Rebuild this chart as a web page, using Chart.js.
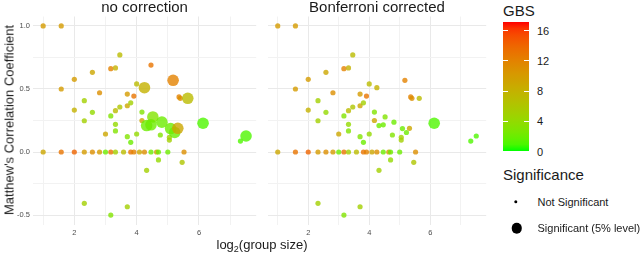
<!DOCTYPE html>
<html lang="en">
<head>
<meta charset="UTF-8">
<title>MCC vs group size</title>
<script src="https://cdn.jsdelivr.net/npm/chart.js"></script>
<style>
  body { margin: 0; background: #fff; font-family: "Liberation Sans", Arial, sans-serif; }
  #wrap { position: relative; width: 640px; height: 255px; overflow: hidden; background: #fff; }
  canvas { position: absolute; top: 0; }
  .lbl { position: absolute; white-space: nowrap; color: #1a1a1a; }
  #ytitle { left: 8.5px; top: 120px; font-size: 13px; transform: translate(-50%, -50%) rotate(-90deg); }
  #xtitle { left: 262px; top: 238px; font-size: 13px; line-height: 14px; transform: translateX(-50%); }
  #xtitle sub { font-size: 9px; vertical-align: -3px; line-height: 0; }
  .legtitle { font-size: 15px; line-height: 15px; }
  .legtext { font-size: 11px; line-height: 11px; transform: translateY(-50%); }
  #bar { position: absolute; left: 503px; top: 22.3px; width: 26px; height: 129.2px; }
  .tick { position: absolute; width: 5px; height: 1px; background: #fff; }
  .dot { position: absolute; border-radius: 50%; background: #000; transform: translate(-50%, -50%); }
</style>
</head>
<body>
<div id="wrap">
  <canvas id="leftChart" width="262" height="255" style="left:0"></canvas>
  <canvas id="rightChart" width="230" height="255" style="left:262px"></canvas>
  <div id="ytitle" class="lbl">Matthew's Correlation Coefficient</div>
  <div id="xtitle" class="lbl">log<sub>2</sub>(group size)</div>
  <div class="lbl legtitle" style="left:503px;top:3px">GBS</div>
  <div id="bar"></div>
  <div class="lbl legtitle" style="left:503px;top:167px">Significance</div>
  <div class="dot" style="left:516px;top:201.7px;width:3.4px;height:3.4px"></div>
  <div class="lbl legtext" style="left:537.5px;top:201.7px">Not Significant</div>
  <div class="dot" style="left:516.5px;top:228.3px;width:10.5px;height:10.5px"></div>
  <div class="lbl legtext" style="left:537.5px;top:228.3px">Significant (5% level)</div>
</div>

<script>
// x = log2(group size), y = Matthew's correlation coefficient, gbs = colour value
const logGroupSize = [
  1.00, 1.58, 1.58, 2.00, 2.00, 2.32, 2.32, 2.58, 2.58, 2.81,
  3.00, 3.17, 3.32, 3.17, 3.32, 3.32, 3.32, 3.46, 3.46, 3.70,
  3.70, 3.81, 3.70, 3.81, 3.91, 4.00, 4.00, 4.17, 4.17, 4.76,
  5.05, 5.05, 5.36, 5.40, 7.33, 4.46,
  1.00, 1.58, 2.00, 2.32, 2.58, 2.81, 3.00, 3.17, 3.32, 3.58,
  3.81, 3.91, 4.09, 4.25, 4.46, 4.64, 4.70, 5.00, 5.52,
  4.70, 5.46, 4.32, 2.32, 3.70, 3.17,
  4.25, 5.17, 5.64, 4.52, 4.81, 4.32, 4.46, 5.09, 5.22, 5.32, 6.13, 7.51
];
const mcc = [
  1.00, 1.00, 0.50, 0.577, 0.333, 0.407, 0.248, 0.632, 0.315, 0.47,
  0.143, 0.661, 0.667, 0.286, 0.328, 0.22, 0.167, 0.357, 0.77, 0.46,
  0.367, 0.39, 0.122, 0.077, 0.444, 0.54, 0.143, 0.317, 0.25, 0.135,
  0.117, 0.095, 0.437, 0.426, 0.087, 0.69,
  0, 0, 0, 0, 0, 0, 0, 0, 0, 0,
  0, 0, 0, 0, 0, 0, 0, 0, 0,
  -0.063, -0.082, -0.145, -0.407, -0.434, -0.50,
  0.51, 0.569, 0.426, 0.278, 0.237, 0.21, 0.216, 0.186, 0.155, 0.188, 0.228, 0.127
];
const gbs = [
  10, 10, 10, 10, 8, 5, 5, 9, 4, 11,
  9, 12, 8, 3, 7, 4, 3, 6, 7, 10,
  9, 5, 3, 2, 13, 7, 4, 3, 9, 3,
  5, 5, 12, 11, 1, 13,
  9, 13, 14, 10, 11, 10, 2, 13, 5, 7,
  13, 12, 9, 11, 2, 10, 2, 2, 11,
  4, 6, 5, 5, 5, 3,
  8, 12, 7, 3, 2, 2, 2, 2, 2, 9, 1, 1
];
// significance without correction / after Bonferroni (1 = significant)
const sigRaw = [
  0,0,0,0,0,0,0,0,0,0, 0,0,0,0,0,0,0,0,0,0, 0,0,0,0,0,0,0,0,0,0, 0,0,0,0,0,0,
  0,0,0,0,0,0,0,0,0,0, 0,0,0,0,0,0,0,0,0,
  0,0,0,0,0,0,
  1,1,1,1,1,1,1,1,1,1,1,1
];
const sigBonf = [
  0,0,0,0,0,0,0,0,0,0, 0,0,0,0,0,0,0,0,0,0, 0,0,0,0,0,0,0,0,0,0, 0,0,0,0,0,0,
  0,0,0,0,0,0,0,0,0,0, 0,0,0,0,0,0,0,0,0,
  0,0,0,0,0,0,
  0,0,0,0,0,0,0,0,0,0,1,0
];
// the point at (4.46, 0.69) only shows in the uncorrected panel
const inBonf = logGroupSize.map((v, i) => i === 35 ? 0 : 1);

const xTicks = [1, 2, 3, 4, 5, 6, 7];
const yTicks = [-0.5, -0.25, 0, 0.25, 0.5, 0.75, 1.0];
const gbsBreaks = [0, 4, 8, 12, 16];
const gbsMax = 17.1;

// green -> red gradient interpolated in Lab, like ggplot's scale_colour_gradient
const toLin = c => { c /= 255; return c <= 0.04045 ? c / 12.92 : Math.pow((c + 0.055) / 1.055, 2.4); };
const toSrgb = c => { c = c <= 0.0031308 ? 12.92 * c : 1.055 * Math.pow(c, 1 / 2.4) - 0.055; return Math.round(Math.min(1, Math.max(0, c)) * 255); };
function rgb2lab(r, g, b) {
  r = toLin(r); g = toLin(g); b = toLin(b);
  const X = (0.4124 * r + 0.3576 * g + 0.1805 * b) / 0.95047;
  const Y = 0.2126 * r + 0.7152 * g + 0.0722 * b;
  const Z = (0.0193 * r + 0.1192 * g + 0.9505 * b) / 1.08883;
  const f = t => t > 0.008856 ? Math.cbrt(t) : 7.787 * t + 16 / 116;
  const fx = f(X), fy = f(Y), fz = f(Z);
  return [116 * fy - 16, 500 * (fx - fy), 200 * (fy - fz)];
}
function lab2rgb(L, a, b) {
  const fy = (L + 16) / 116, fx = fy + a / 500, fz = fy - b / 200;
  const fi = t => t > 0.206893 ? t * t * t : (t - 16 / 116) / 7.787;
  const X = fi(fx) * 0.95047, Y = fi(fy), Z = fi(fz) * 1.08883;
  const r = 3.2406 * X - 1.5372 * Y - 0.4986 * Z;
  const g = -0.9689 * X + 1.8758 * Y + 0.0415 * Z;
  const bl = 0.0557 * X - 0.2040 * Y + 1.0570 * Z;
  return [toSrgb(r), toSrgb(g), toSrgb(bl)];
}
const labLow = rgb2lab(0, 255, 0), labHigh = rgb2lab(255, 0, 0);
function gbsColour(v, alpha) {
  const t = Math.min(1, Math.max(0, v / gbsMax));
  const c = lab2rgb(...labLow.map((l, k) => l + (labHigh[k] - l) * t));
  return `rgba(${c[0]},${c[1]},${c[2]},${alpha})`;
}

Chart.defaults.font.family = '"Liberation Sans", Arial, sans-serif';

function makePanel(id, title, sig, shown, yLabels) {
  const idx = logGroupSize.map((_, i) => i).filter(i => shown[i]);
  idx.sort((a, b) => sig[a] - sig[b]);
  return new Chart(document.getElementById(id), {
    type: 'scatter',
    data: {
      datasets: [{
        data: idx.map(i => ({ x: logGroupSize[i], y: mcc[i] })),
        backgroundColor: idx.map(i => gbsColour(gbs[i], 0.8)),
        pointRadius: idx.map(i => sig[i] ? 5.8 : 2.6),
        pointHoverRadius: idx.map(i => sig[i] ? 5.8 : 2.6),
        borderWidth: 0
      }]
    },
    options: {
      responsive: false,
      animation: false,
      layout: { padding: { left: 0, right: yLabels ? 2 : 1, top: 0, bottom: 0 } },
      plugins: {
        legend: { display: false },
        tooltip: { enabled: false },
        title: {
          display: true, text: title, fullSize: false, color: '#1a1a1a',
          font: { size: 15, weight: 'normal', lineHeight: 1.1 },
          padding: { top: 0, bottom: 0 }
        }
      },
      scales: {
        x: {
          type: 'linear', min: 0.674, max: 7.836,
          afterBuildTicks: s => { s.ticks = xTicks.map(v => ({ value: v })); },
          afterFit: s => { s.height = 30.5; },
          border: { display: false },
          grid: {
            drawTicks: false,
            color: c => c.tick && c.tick.value % 2 === 0 ? '#e9e9e9' : '#f2f2f2',
            lineWidth: 1
          },
          ticks: {
            padding: 3.5, color: '#4d4d4d', font: { size: 7.5 }, maxRotation: 0,
            callback: v => v % 2 === 0 ? String(v) : ''
          }
        },
        y: {
          type: 'linear', min: -0.575, max: 1.075,
          afterBuildTicks: s => { s.ticks = yTicks.map(v => ({ value: v })); },
          afterFit: s => { s.width = yLabels ? 33 : 2; },
          border: { display: false },
          grid: {
            drawTicks: false,
            color: c => c.tick && Math.abs(c.tick.value * 2 - Math.round(c.tick.value * 2)) < 1e-6 ? '#e9e9e9' : '#f2f2f2',
            lineWidth: 1
          },
          ticks: {
            display: yLabels, padding: 3, color: '#4d4d4d', font: { size: 7.5 },
            callback: v => Math.abs(v * 2 - Math.round(v * 2)) < 1e-6 ? v.toFixed(1) : ''
          }
        }
      }
    }
  });
}

makePanel('leftChart', 'no correction', sigRaw, logGroupSize.map(() => 1), true);
makePanel('rightChart', 'Bonferroni corrected', sigBonf, inBonf, false);

// colour bar legend
const bar = document.getElementById('bar');
const stops = [];
for (let k = 0; k <= 20; k++) stops.push(`${gbsColour(gbsMax * k / 20, 1)} ${k * 5}%`);
bar.style.background = `linear-gradient(to top, ${stops.join(', ')})`;
const wrap = document.getElementById('wrap');
const barTop = 22.3, barH = 129.2;
gbsBreaks.forEach(b => {
  const y = barTop + barH * (1 - b / gbsMax);
  [503, 524].forEach(x => {
    const t = document.createElement('div');
    t.className = 'tick';
    t.style.left = x + 'px';
    t.style.top = (y - 0.5) + 'px';
    wrap.appendChild(t);
  });
  const l = document.createElement('div');
  l.className = 'lbl legtext';
  l.style.left = '537px';
  l.style.top = y + 'px';
  l.textContent = b;
  wrap.appendChild(l);
});
</script>
</body>
</html>
